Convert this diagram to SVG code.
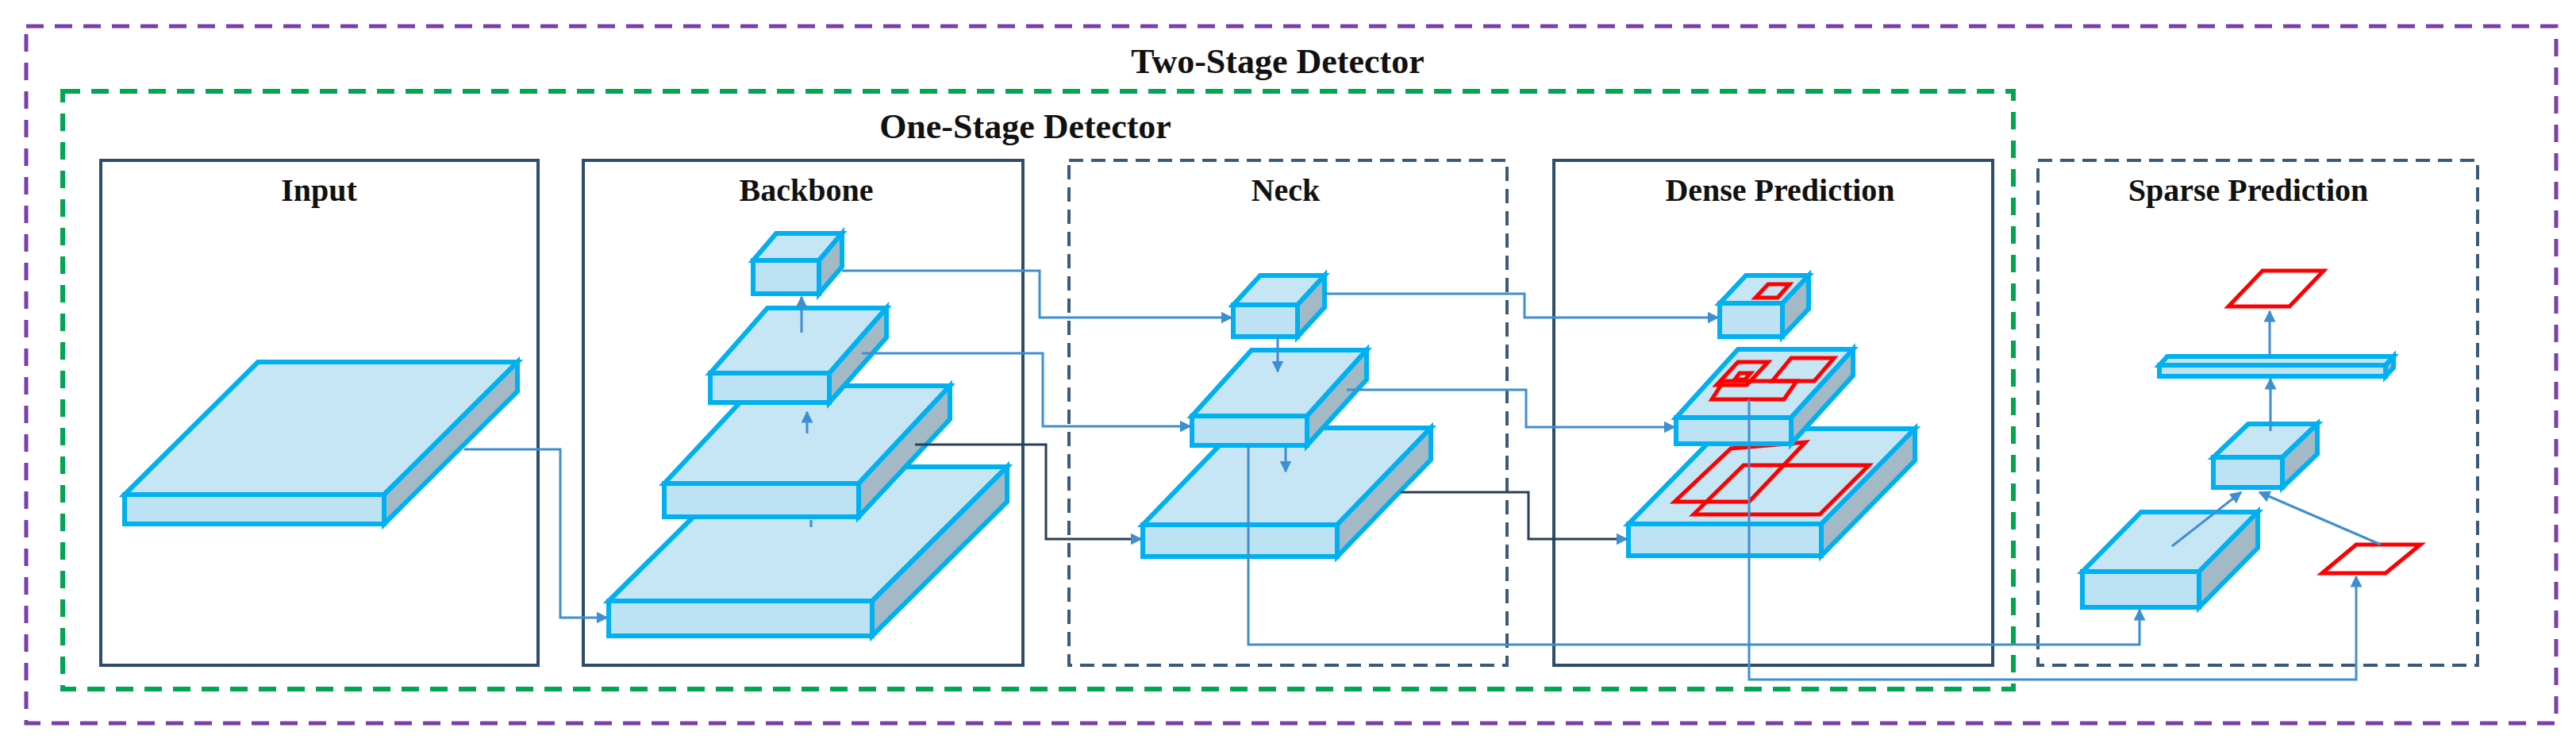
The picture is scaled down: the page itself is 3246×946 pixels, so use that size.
<svg xmlns="http://www.w3.org/2000/svg" width="3246" height="946" viewBox="0 0 3246 946">
<style>
.t{font-family:"Liberation Serif",serif;font-weight:bold;fill:#111;text-anchor:middle}
.top{fill:#c6e6f5;stroke:#00b0f0;stroke-width:6;stroke-linejoin:miter}
.front{fill:#bde2f4;stroke:#00b0f0;stroke-width:6}
.side{fill:#a3b9c6;stroke:#00b0f0;stroke-width:6;stroke-linejoin:miter}
.red{fill:none;stroke:#ff0000;stroke-width:5}
.c{fill:none;stroke:#3d8fd1;stroke-width:3}
.cd{fill:none;stroke:#2a3f55;stroke-width:3}
.solid{fill:none;stroke:#2f4d6a;stroke-width:4}
.dash{fill:none;stroke:#3c5a78;stroke-width:4;stroke-dasharray:18 10}
</style>
<defs>
<marker id="a" viewBox="0 0 10 10" refX="9" refY="5" markerWidth="5" markerHeight="5" orient="auto-start-reverse"><path d="M0,0 L10,5 L0,10 Z" fill="#3d8fd1"/></marker>
</defs>
<rect width="3246" height="946" fill="#fff"/>
<g id="two-stage">
<rect x="33" y="33" width="3188" height="878" fill="none" stroke="#7b3fa8" stroke-width="5" stroke-dasharray="22 14"/>
<text class="t" x="1610" y="92" font-size="44">Two-Stage Detector</text>
</g>
<g id="one-stage">
<rect x="79" y="115" width="2458" height="753" fill="none" stroke="#00a651" stroke-width="6" stroke-dasharray="22 14"/>
<text class="t" x="1292" y="174" font-size="44">One-Stage Detector</text>
</g>
<g id="input">
<rect class="solid" x="127" y="202" width="551" height="636"/>
<text class="t" x="402" y="253" font-size="40">Input</text>
<path class="top" d="M157,623 L325,456 L652,456 L484,623 Z"/>
<rect class="front" x="157" y="623" width="327" height="37"/>
<path class="side" d="M484,623 L652,456 L652,493 L484,660 Z"/>
</g>
<g id="backbone">
<rect class="solid" x="735" y="202" width="554" height="636"/>
<text class="t" x="1016" y="253" font-size="40">Backbone</text>
<path class="top" d="M767,757 L937,588 L1269,588 L1099,757 Z"/>
<rect class="front" x="767" y="757" width="332" height="44"/>
<path class="side" d="M1099,757 L1269,588 L1269,632 L1099,801 Z"/>
<path class="top" d="M837,609 L952,486 L1197,486 L1082,609 Z"/>
<rect class="front" x="837" y="609" width="245" height="42"/>
<path class="side" d="M1082,609 L1197,486 L1197,528 L1082,651 Z"/>
<path class="top" d="M895,470 L967,388 L1117,388 L1045,470 Z"/>
<rect class="front" x="895" y="470" width="150" height="37"/>
<path class="side" d="M1045,470 L1117,388 L1117,425 L1045,507 Z"/>
<path class="top" d="M949,328 L978,294 L1061,294 L1032,328 Z"/>
<rect class="front" x="949" y="328" width="83" height="42"/>
<path class="side" d="M1032,328 L1061,294 L1061,336 L1032,370 Z"/>
</g>
<g id="neck">
<rect class="dash" x="1347" y="202" width="552" height="636"/>
<text class="t" x="1620" y="253" font-size="40">Neck</text>
<path class="top" d="M1440,661 L1558,539 L1803,539 L1685,661 Z"/>
<rect class="front" x="1440" y="661" width="245" height="40"/>
<path class="side" d="M1685,661 L1803,539 L1803,579 L1685,701 Z"/>
<path class="top" d="M1502,524 L1577,441 L1722,441 L1647,524 Z"/>
<rect class="front" x="1502" y="524" width="145" height="37"/>
<path class="side" d="M1647,524 L1722,441 L1722,478 L1647,561 Z"/>
<path class="top" d="M1554,384 L1588,347 L1669,347 L1635,384 Z"/>
<rect class="front" x="1554" y="384" width="81" height="40"/>
<path class="side" d="M1635,384 L1669,347 L1669,387 L1635,424 Z"/>
</g>
<g id="dense-prediction">
<rect class="solid" x="1958" y="202" width="553" height="636"/>
<text class="t" x="2243" y="253" font-size="40">Dense Prediction</text>
<path class="top" d="M2052,660 L2170,540 L2413,540 L2295,660 Z"/>
<rect class="front" x="2052" y="660" width="243" height="40"/>
<path class="side" d="M2295,660 L2413,540 L2413,580 L2295,700 Z"/>
<path class="red" d="M2110,632 L2181,565 L2275,557 L2204,632 Z"/>
<path class="red" d="M2134,648 L2197,586 L2355,586 L2293,648 Z"/>
<path class="top" d="M2112,526 L2190,440 L2335,440 L2257,526 Z"/>
<rect class="front" x="2112" y="526" width="145" height="33"/>
<path class="side" d="M2257,526 L2335,440 L2335,473 L2257,559 Z"/>
<path class="red" d="M2163,485 L2190,456 L2228,456 L2201,485 Z"/>
<path class="red" d="M2233,480 L2257,451 L2311,451 L2286,480 Z"/>
<path class="red" d="M2157,503 L2172,480 L2264,480 L2248,503 Z"/>
<path class="red" d="M2186,478 L2192,470 L2206,470 L2199,478 Z"/>
<path class="top" d="M2167,382 L2200,347 L2279,347 L2246,382 Z"/>
<rect class="front" x="2167" y="382" width="79" height="42"/>
<path class="side" d="M2246,382 L2279,347 L2279,389 L2246,424 Z"/>
<path class="red" d="M2212,375 L2228,358 L2255,358 L2240,375 Z"/>
</g>
<g id="sparse-prediction">
<rect class="dash" x="2568" y="202" width="554" height="636"/>
<text class="t" x="2833" y="253" font-size="40">Sparse Prediction</text>
<path class="top" d="M2624,720 L2698,645 L2845,645 L2771,720 Z"/>
<rect class="front" x="2624" y="720" width="147" height="45"/>
<path class="side" d="M2771,720 L2845,645 L2845,690 L2771,765 Z"/>
<path class="top" d="M2789,576 L2833,534 L2920,534 L2876,576 Z"/>
<rect class="front" x="2789" y="576" width="87" height="38"/>
<path class="side" d="M2876,576 L2920,534 L2920,572 L2876,614 Z"/>
<path class="top" d="M2721,460 L2731,449 L3016,449 L3006,460 Z"/>
<rect class="front" x="2721" y="460" width="285" height="14"/>
<path class="side" d="M3006,460 L3016,449 L3016,463 L3006,474 Z"/>
<path class="red" d="M2808,386 L2851,341 L2928,341 L2885,386 Z"/>
<path class="red" d="M2926,722 L2969,686 L3050,686 L3006,722 Z"/>
</g>
<g id="connectors">
<path class="c" d="M585,566 H706 V778 H765" marker-end="url(#a)"/>
<path class="c" d="M1061,341 H1310 V400 H1552" marker-end="url(#a)"/>
<path class="c" d="M1086,445 H1314 V537 H1500" marker-end="url(#a)"/>
<path class="cd" d="M1153,560 H1318 V679 H1438" marker-end="url(#a)"/>
<path class="c" d="M1669,370 H1921 V400 H2165" marker-end="url(#a)"/>
<path class="c" d="M1697,491 H1923 V538 H2110" marker-end="url(#a)"/>
<path class="cd" d="M1765,620 H1926 V679 H2050" marker-end="url(#a)"/>
<path class="c" d="M1573,561 V812 H2696 V768" marker-end="url(#a)"/>
<path class="c" d="M2204,503 V856 H2969 V726" marker-end="url(#a)"/>
<path class="c" d="M1010,419 V374" marker-end="url(#a)"/>
<path class="c" d="M1017,546 V519" marker-end="url(#a)"/>
<path class="c" d="M1022,655 V664"/>
<path class="c" d="M1610,424 V468" marker-end="url(#a)"/>
<path class="c" d="M1620,564 V594" marker-end="url(#a)"/>
<path class="c" d="M2861,543 V477" marker-end="url(#a)"/>
<path class="c" d="M2860,448 V392" marker-end="url(#a)"/>
<path class="c" d="M2737,688 L2824,620" marker-end="url(#a)"/>
<path class="c" d="M3000,686 L2847,620" marker-end="url(#a)"/>
</g>
</svg>
